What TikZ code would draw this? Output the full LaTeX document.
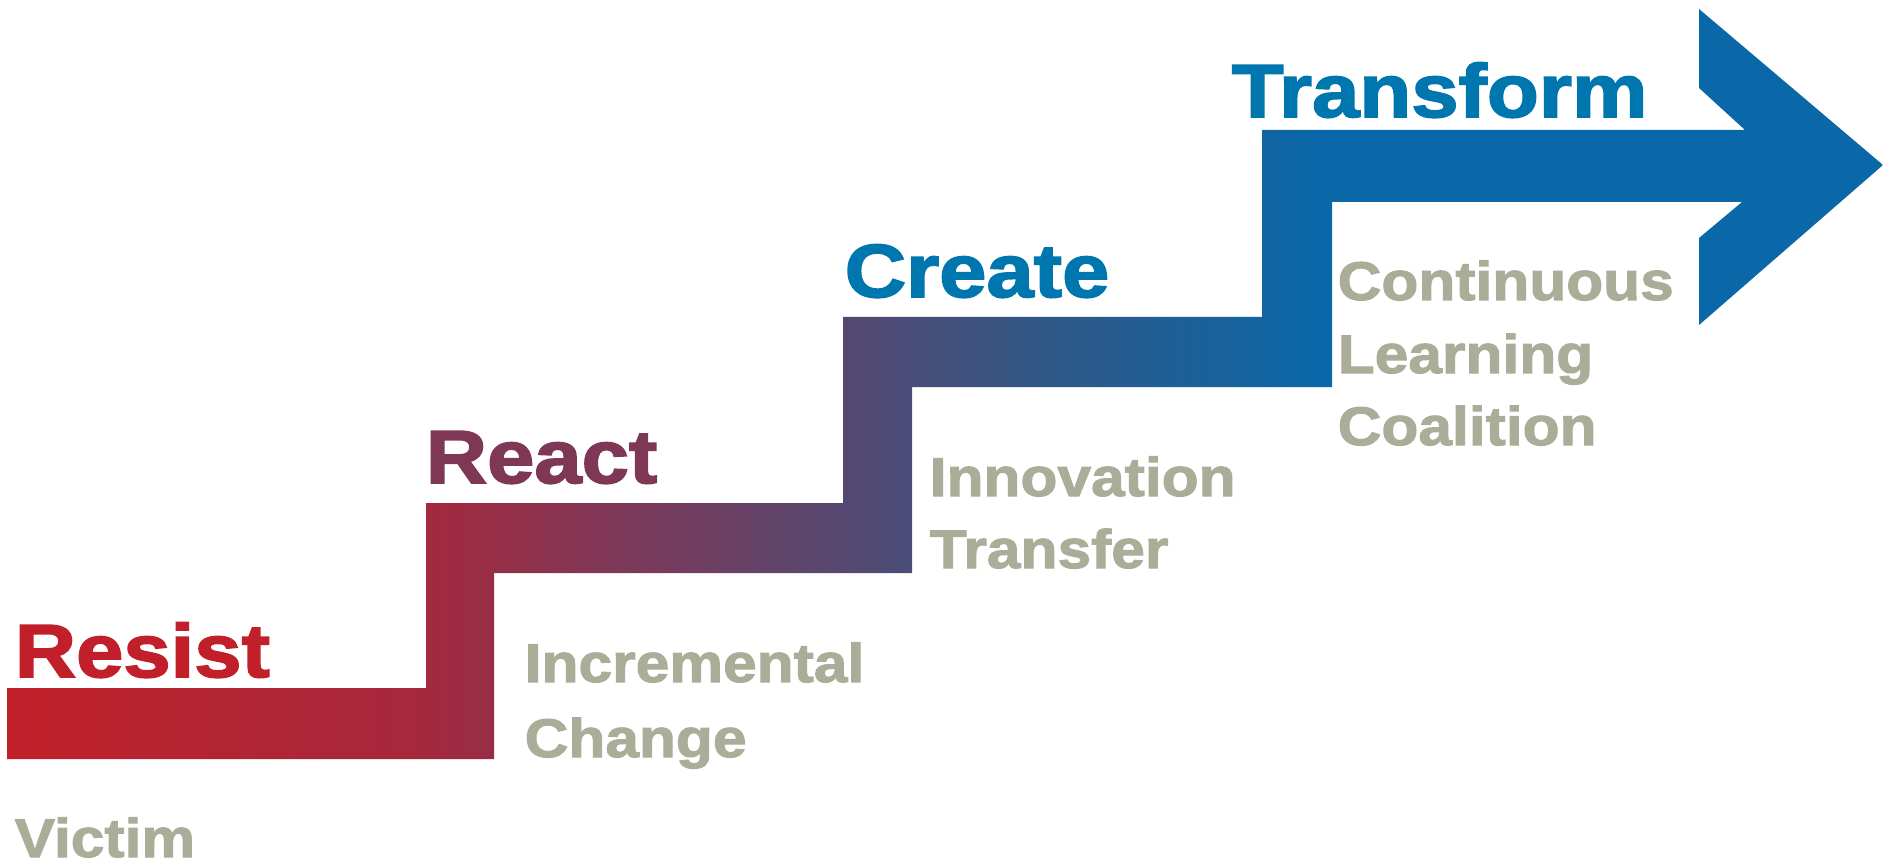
\documentclass[tikz,border=0pt]{standalone}
\usepackage{fontspec}
\newfontfamily\heavy[FakeBold=2.3,FakeStretch=1.13]{Liberation Sans Bold}
\newfontfamily\heavynote[FakeBold=1.9,FakeStretch=1.11]{Liberation Sans Bold}
\usetikzlibrary{positioning}

\definecolor{resistred}{RGB}{193,32,42}
\definecolor{reactplum}{RGB}{126,55,85}
\definecolor{createblue}{RGB}{0,118,174}
\definecolor{notegray}{RGB}{170,174,152}
\definecolor{stairA}{RGB}{165,40,60}
\definecolor{stairB}{RGB}{128,55,87}
\definecolor{stairC}{RGB}{80,74,115}
\definecolor{stairD}{RGB}{45,88,135}
\definecolor{arrowblue}{RGB}{10,103,168}

% red on the left, through plum, to blue at the arrow
\pgfdeclarehorizontalshading{stairshade}{100bp}{
  color(0bp)=(resistred); color(25bp)=(resistred);
  color(36bp)=(stairA); color(41bp)=(stairB);
  color(48bp)=(stairC); color(53bp)=(stairD);
  color(60bp)=(arrowblue); color(100bp)=(arrowblue)}

\tikzset{
  stagelabel/.style={font=\heavy\fontsize{21.4}{24}\selectfont, inner sep=0pt, anchor=base west},
  sublabel/.style={font=\heavynote\fontsize{15.5}{20}\selectfont, text=notegray, inner sep=0pt, anchor=base west},
}

\begin{document}
\begin{tikzpicture}[x=0.01cm,y=-0.01cm]
  \useasboundingbox (0,0) rectangle (1883,864);

  % staircase and arrow head
  \shade[shading=stairshade]
    (7,759) -- (494,759) -- (494,573) -- (912,573) -- (912,387)
    -- (1332,387) -- (1332,202) -- (1742,202) -- (1699,238) -- (1699,325)
    -- (1883,165) -- (1699,9) -- (1699,88) -- (1745,130) -- (1262,130)
    -- (1262,317) -- (843,317) -- (843,503) -- (426,503) -- (426,688)
    -- (7,688) -- cycle;

  \node[stagelabel, text=resistred] (resist) at (14,677) {Resist};
  \node[stagelabel, text=reactplum] (react) at (425,483) {React};
  \node[stagelabel, text=createblue] (create) at (844,297) {Create};
  \node[stagelabel, text=createblue] (transform) at (1231,117) {Transform};

  \node[sublabel] (victim) at (14,857) {Victim};
  \node[sublabel] (incr) at (524,682) {Incremental};
  \node[sublabel] (change) at ([yshift=-0.75cm]incr.base west) {Change};
  \node[sublabel] (innov) at (929,496) {Innovation};
  \node[sublabel] (transfer) at ([yshift=-0.72cm]innov.base west) {Transfer};
  \node[sublabel] (cont) at (1337,300) {Continuous};
  \node[sublabel] (learn) at ([yshift=-0.73cm]cont.base west) {Learning};
  \node[sublabel] (coal) at ([yshift=-0.72cm]learn.base west) {Coalition};
\end{tikzpicture}
\end{document}
